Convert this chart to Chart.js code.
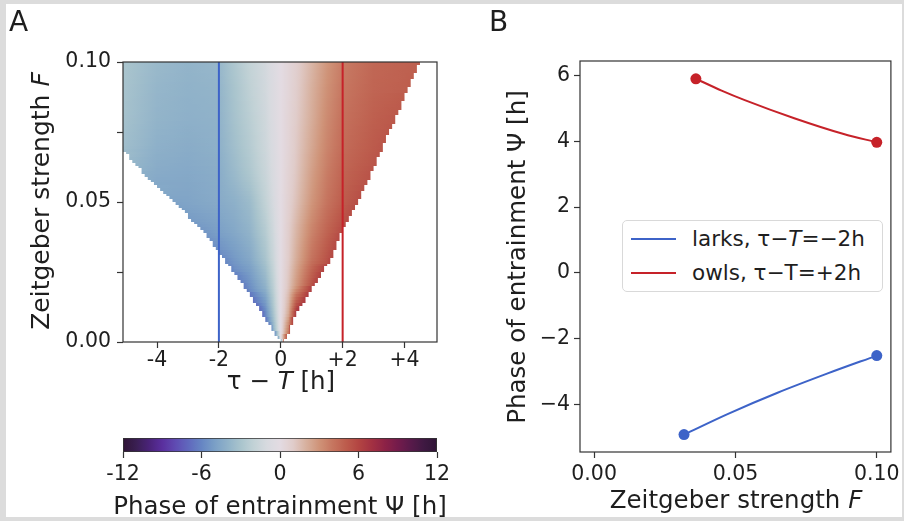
<!DOCTYPE html>
<html>
<head>
<meta charset="utf-8">
<script src="https://cdn.jsdelivr.net/npm/chart.js@4.4.1/dist/chart.umd.min.js"></script>
<style>
  html, body { margin: 0; padding: 0; }
  body { width: 904px; height: 521px; background: #dcdcdc; position: relative; overflow: hidden;
         font-family: 'DejaVu Sans', sans-serif; color: #1e1e1e; }
  #sheet { position: absolute; left: 6px; top: 4px; width: 896px; height: 513px; background: #fff; }
  canvas { position: absolute; }
  .lbl { position: absolute; white-space: nowrap; transform: translate(-50%, -50%); font-size: 24.5px; line-height: 1; }
  .rot { transform: translate(-50%, -50%) rotate(-90deg); }
  .panel { position: absolute; font-size: 28px; line-height: 1; }
  #legend { position: absolute; left: 622px; top: 220px; width: 259px; height: 70px;
            border: 1px solid #d9d9d9; border-radius: 5px; background: #fff; }
  #legend .sw { position: absolute; left: 8px; width: 45px; height: 2px; }
  #legend .tx { position: absolute; left: 69px; font-size: 21.5px; line-height: 1; transform: translateY(-50%); white-space: nowrap; }
</style>
</head>
<body>
<div id="sheet"></div>
<canvas id="chartA" width="470" height="400" style="left:0;top:0"></canvas>
<canvas id="colorbar" width="470" height="117" style="left:0;top:400px"></canvas>
<canvas id="chartB" width="434" height="521" style="left:470px;top:0"></canvas>

<div class="panel" style="left:9px;top:8px">A</div>
<div class="panel" style="left:489px;top:8px">B</div>
<div class="lbl rot" style="left:40px;top:201px;font-size:25px">Zeitgeber strength <i>F</i></div>
<div class="lbl" style="left:281px;top:381px">τ − <i>T</i> [h]</div>
<div class="lbl" style="left:280px;top:506px">Phase of entrainment Ψ [h]</div>
<div class="lbl rot" style="left:517px;top:257px">Phase of entrainment Ψ [h]</div>
<div class="lbl" style="left:736px;top:500px">Zeitgeber strength <i>F</i></div>
<div id="legend">
  <div class="sw" style="top:17px;background:#3d63c8"></div>
  <div class="tx" style="top:18px">larks, τ−<i>T</i>=−2h</div>
  <div class="sw" style="top:51px;background:#c62229"></div>
  <div class="tx" style="top:52px">owls, τ−T=+2h</div>
</div>

<script>
// ---- panel A: phase of entrainment over (tau - T, F) ----
const fRows = [0, 0.01, 0.02, 0.03, 0.04, 0.05, 0.06, 0.07, 0.08, 0.09, 0.10];
const tauCols = [-5, -4, -3, -2, -1.5, -1, -0.5, -0.25, 0, 0.25, 0.5, 1, 1.5, 2, 3, 4];
// edges of the entrainment region at each F row
const tongueLeft = [-0.02, -0.6, -1.2, -1.86, -2.55, -3.45, -4.43, -5.2, -5.2, -5.2, -5.2];
const tongueRight = [0.12, 0.5, 1.07, 1.65, 2.0, 2.51, 2.91, 3.31, 3.71, 4.11, 4.48];
const phaseLeftEdge = [-5, -7.0, -6.3, -5.8, -5.3, -4.8, -4.2, -3.2, -3.0, -2.95, -2.9];
const phaseRightEdge = [5, 6.8, 6.3, 5.9, 5.7, 5.6, 5.4, 5.3, 5.2, 5.0, 4.9];
const phaseGrid = [
  [null, null, null, null, null, null, null, null, 0, null, null, null, null, null, null, null],
  [null, null, null, null, null, null, -6.0, -3.2, 0, 2.2, null, null, null, null, null, null],
  [null, null, null, null, null, -5.6, -4.0, -2.3, 0, 1.3, 2.8, 5.5, null, null, null, null],
  [null, null, null, null, -5.2, -4.5, -3.0, -1.7, 0, 1.0, 2.1, 4.1, 5.4, null, null, null],
  [null, null, null, -4.9, -4.5, -3.9, -2.5, -1.4, 0, 0.9, 1.8, 3.5, 4.7, null, null, null],
  [null, null, -4.7, -4.4, -4.1, -3.5, -2.0, -1.1, 0, 0.7, 1.4, 2.9, 4.1, 5.0, null, null],
  [null, -4.4, -4.5, -4.3, -3.6, -2.8, -1.7, -0.9, 0, 0.6, 1.2, 2.6, 3.8, 4.7, null, null],
  [-3.4, -4.1, -4.3, -4.1, -3.3, -2.5, -1.5, -0.8, 0, 0.5, 1.1, 2.3, 3.5, 4.4, 5.1, null],
  [-3.2, -3.9, -4.1, -4.0, -3.1, -2.3, -1.4, -0.7, 0, 0.5, 1.0, 2.1, 3.3, 4.2, 4.9, null],
  [-3.1, -3.8, -4.0, -3.9, -3.0, -2.1, -1.3, -0.7, 0, 0.4, 0.9, 2.0, 3.1, 4.0, 4.7, 4.9],
  [-3.0, -3.6, -3.9, -3.7, -2.8, -1.9, -1.2, -0.6, 0, 0.4, 0.8, 1.8, 2.9, 3.8, 4.6, 4.8]
];
// simulation grid spacing, gives the stepped edge of the region
const tauStep = 0.1;
const fStep = 0.001;
const markerTau = [-2, 2];
const tauTicks = [-4, -2, 0, 2, 4];
const tauTickLabels = ['-4', '-2', '0', '+2', '+4'];
const fTicks = [0, 0.025, 0.05, 0.075, 0.1];
const fTickLabels = ['0.00', '', '0.05', '', '0.10'];
const cbRange = [-12, 12];
const cbTicks = [-12, -6, 0, 6, 12];
const cbTickLabels = ['-12', '-6', '0', '6', '12'];

// ---- panel B ----
const larksF = [0.0318, 0.0474, 0.0649, 0.0824, 0.1];
const larksPsi = [-4.91, -4.28, -3.64, -3.06, -2.51];
const owlsF = [0.036, 0.0451, 0.0533, 0.0708, 0.0883, 0.1];
const owlsPsi = [5.90, 5.54, 5.25, 4.70, 4.22, 3.97];
const bFTicks = [0, 0.05, 0.1];
const bFTickLabels = ['0.00', '0.05', '0.10'];
const bPsiTicks = [-4, -2, 0, 2, 4, 6];
const bPsiTickLabels = ['−4', '−2', '0', '2', '4', '6'];

const larksColor = '#3d63c8';
const owlsColor = '#c62229';
const axisColor = '#333';
const tickFont = { family: 'DejaVu Sans', size: 20.5 };

// twilight_shifted, one stop per hour from -12 to 12
const cmap = ['#2f1436', '#3a1f52', '#4a2379', '#5a2f9e', '#5f4bb2', '#6068bd', '#6685c3', '#7a9fc6',
  '#90b2c9', '#a9c4cd', '#c2d2d6', '#d7dadf', '#e3dbe2', '#e0ccca', '#d7b09e', '#cf9378', '#c67660',
  '#bd5d4d', '#b34542', '#a33142', '#8d2246', '#741b4b', '#581a4a', '#3f1942', '#2f1436'];
const cmapRgb = cmap.map(h => [1, 3, 5].map(k => parseInt(h.substr(k, 2), 16)));

function psiColor(v) {
  const t = Math.max(0, Math.min(23.9999, v + 12));
  const i = Math.floor(t), f = t - i;
  const a = cmapRgb[i], b = cmapRgb[i + 1];
  return 'rgb(' + a.map((c, k) => Math.round(c + (b[k] - c) * f)).join(',') + ')';
}

// adds colour stops for phase values along [x0, x1], following the colormap
function addStops(g, pts, x0, x1) {
  for (let k = 0; k < pts.length; k++) {
    const [px, v] = pts[k];
    g.addColorStop(Math.min(1, Math.max(0, (px - x0) / (x1 - x0))), psiColor(v));
    if (k < pts.length - 1) {
      const [qx, w] = pts[k + 1];
      for (let s = 1; s < 4; s++) {
        const px2 = px + (qx - px) * s / 4;
        g.addColorStop(Math.min(1, Math.max(0, (px2 - x0) / (x1 - x0))), psiColor(v + (w - v) * s / 4));
      }
    }
  }
}

const heatmapPlugin = {
  id: 'heatmap',
  beforeDatasetsDraw(chart) {
    const { ctx, chartArea: a, scales: { x, y } } = chart;
    ctx.save();
    ctx.beginPath();
    ctx.rect(a.left, a.top, a.right - a.left, a.bottom - a.top);
    ctx.clip();
    for (let py = Math.floor(a.top); py < a.bottom; py++) {
      const F = (Math.floor(y.getValueForPixel(py + 0.5) / fStep) + 0.5) * fStep;
      let i = 0;
      while (i < fRows.length - 2 && fRows[i + 1] < F) i++;
      const t = Math.max(0, Math.min(1, (F - fRows[i]) / (fRows[i + 1] - fRows[i])));
      const mix = (p, q) => p + (q - p) * t;
      const tl = Math.round(mix(tongueLeft[i], tongueLeft[i + 1]) / tauStep) * tauStep;
      const tr = Math.round(mix(tongueRight[i], tongueRight[i + 1]) / tauStep) * tauStep;
      if (tr <= tl) continue;
      const pts = [[x.getPixelForValue(tl), mix(phaseLeftEdge[i], phaseLeftEdge[i + 1])]];
      tauCols.forEach((c, j) => {
        if (c <= tl || c >= tr) return;
        const va = phaseGrid[i][j] ?? (c < 0 ? phaseLeftEdge[i] : phaseRightEdge[i]);
        const vb = phaseGrid[i + 1][j] ?? (c < 0 ? phaseLeftEdge[i + 1] : phaseRightEdge[i + 1]);
        pts.push([x.getPixelForValue(c), mix(va, vb)]);
      });
      pts.push([x.getPixelForValue(tr), mix(phaseRightEdge[i], phaseRightEdge[i + 1])]);
      const x0 = pts[0][0], x1 = pts[pts.length - 1][0];
      const g = ctx.createLinearGradient(x0, 0, x1, 0);
      addStops(g, pts, x0, x1);
      ctx.fillStyle = g;
      ctx.fillRect(x0, py, x1 - x0, 1);
    }
    ctx.restore();
  }
};

const framePlugin = {
  id: 'frame',
  afterDatasetsDraw(chart) {
    const { ctx, chartArea: a } = chart;
    ctx.save();
    ctx.strokeStyle = axisColor;
    ctx.lineWidth = 1.2;
    ctx.strokeRect(a.left, a.top, a.right - a.left, a.bottom - a.top);
    ctx.restore();
  }
};

function axis(min, max, ticks, labels, size, sizeProp, pad) {
  return {
    type: 'linear', min: min, max: max,
    afterFit: s => { s[sizeProp] = size; },
    afterBuildTicks: s => { s.ticks = ticks.map(v => ({ value: v })); },
    ticks: { callback: (v, i) => labels[i], font: tickFont, color: '#1e1e1e', padding: pad,
             autoSkip: false, maxRotation: 0 },
    grid: { drawOnChartArea: false, drawTicks: true, tickLength: 6, color: axisColor, tickWidth: 1.2 },
    border: { display: false }
  };
}

const common = {
  responsive: false,
  animation: false,
  plugins: { legend: { display: false }, tooltip: { enabled: false } }
};

// panel A
new Chart(document.getElementById('chartA'), {
  type: 'scatter',
  data: {
    datasets: markerTau.map((tau, k) => ({
      data: [{ x: tau, y: fTicks[0] }, { x: tau, y: fTicks[fTicks.length - 1] }],
      showLine: true,
      borderColor: k === 0 ? larksColor : owlsColor,
      borderWidth: 2,
      pointRadius: 0
    }))
  },
  options: Object.assign({}, common, {
    layout: { padding: { top: 62, right: 33, left: 0, bottom: 0 } },
    scales: {
      x: axis(-5.1, 5.05, tauTicks, tauTickLabels, 58, 'height', 0),
      y: axis(0, 0.1, fTicks, fTickLabels, 123, 'width', 6)
    }
  }),
  plugins: [heatmapPlugin, framePlugin]
});

// colorbar
new Chart(document.getElementById('colorbar'), {
  type: 'bar',
  data: {
    labels: [''],
    datasets: [{
      data: [cbRange],
      backgroundColor: c => {
        const ch = c.chart, xs = ch.scales.x;
        if (!ch.chartArea || !xs) return '#ccc';
        const x0 = xs.getPixelForValue(cbRange[0]), x1 = xs.getPixelForValue(cbRange[1]);
        const g = ch.ctx.createLinearGradient(x0, 0, x1, 0);
        const pts = cmap.map((_, k) => [xs.getPixelForValue(cbRange[0] + k), cbRange[0] + k]);
        addStops(g, pts, x0, x1);
        return g;
      },
      borderColor: axisColor,
      borderWidth: 1.2,
      borderSkipped: false,
      barPercentage: 1,
      categoryPercentage: 1
    }]
  },
  options: Object.assign({}, common, {
    indexAxis: 'y',
    layout: { padding: { top: 38, right: 33, left: 123, bottom: 0 } },
    scales: {
      x: axis(cbRange[0], cbRange[1], cbTicks, cbTickLabels, 65, 'height', 4),
      y: { display: false }
    }
  })
});

// panel B
new Chart(document.getElementById('chartB'), {
  type: 'scatter',
  data: {
    datasets: [
      { F: larksF, P: larksPsi, color: larksColor },
      { F: owlsF, P: owlsPsi, color: owlsColor }
    ].map(s => ({
      data: s.F.map((f, i) => ({ x: f, y: s.P[i] })),
      showLine: true,
      cubicInterpolationMode: 'monotone',
      borderColor: s.color,
      backgroundColor: s.color,
      borderWidth: 2,
      pointRadius: s.F.map((_, i) => (i === 0 || i === s.F.length - 1) ? 5.5 : 0),
      pointBorderWidth: 0
    }))
  },
  options: Object.assign({}, common, {
    layout: { padding: { top: 61, right: 9, left: 0, bottom: 0 } },
    scales: {
      x: axis(-0.005, 0.105, bFTicks, bFTickLabels, 69, 'height', 4),
      y: axis(-5.44, 6.44, bPsiTicks, bPsiTickLabels, 110, 'width', 4)
    }
  }),
  plugins: [framePlugin]
});
</script>
</body>
</html>
